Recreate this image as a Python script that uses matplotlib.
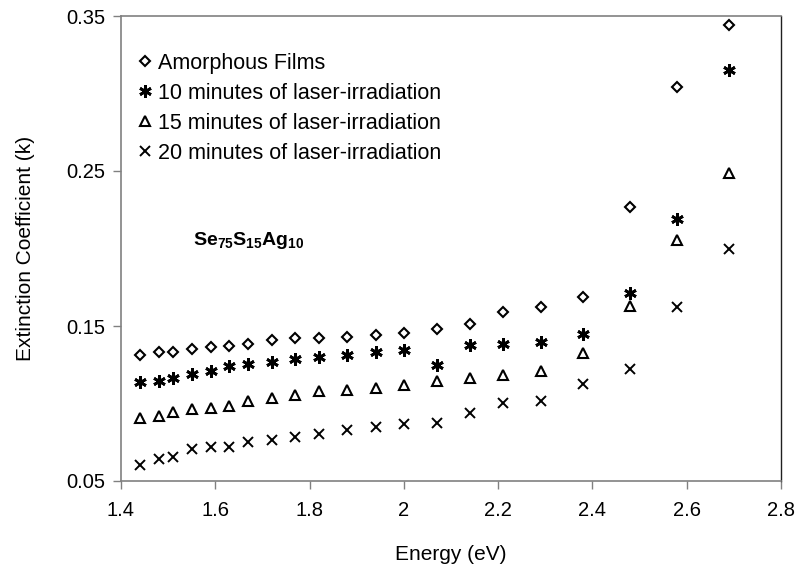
import matplotlib
matplotlib.use('Agg')
import matplotlib.pyplot as plt

plt.rcParams['font.family'] = ['Liberation Sans', 'DejaVu Sans']
plt.rcParams['mathtext.fontset'] = 'custom'
plt.rcParams['mathtext.rm'] = 'Liberation Sans'
plt.rcParams['mathtext.bf'] = 'Liberation Sans:bold'

energy = [1.44, 1.48, 1.51, 1.55, 1.59, 1.63, 1.67, 1.72, 1.77, 1.82, 1.88, 1.94,
          2.00, 2.07, 2.14, 2.21, 2.29, 2.38, 2.48, 2.58, 2.69]

k_amorphous = [0.1316, 0.1331, 0.1335, 0.1353, 0.1364, 0.1370, 0.1385, 0.1407, 0.1420,
               0.1424, 0.1430, 0.1442, 0.1457, 0.1483, 0.1515, 0.1590, 0.1623, 0.1688,
               0.2270, 0.3040, 0.3442]
k_10min = [0.1136, 0.1147, 0.1164, 0.1190, 0.1208, 0.1245, 0.1255, 0.1268, 0.1288,
           0.1299, 0.1316, 0.1331, 0.1347, 0.1247, 0.1375, 0.1385, 0.1398, 0.1450,
           0.1716, 0.2193, 0.3150]
k_15min = [0.0905, 0.0920, 0.0942, 0.0963, 0.0974, 0.0985, 0.1018, 0.1034, 0.1052,
           0.1078, 0.1089, 0.1099, 0.1117, 0.1147, 0.1164, 0.1186, 0.1208, 0.1327,
           0.1630, 0.2052, 0.2485]
k_20min = [0.0602, 0.0645, 0.0656, 0.0706, 0.0721, 0.0721, 0.0749, 0.0764, 0.0786,
           0.0803, 0.0829, 0.0846, 0.0869, 0.0872, 0.0937, 0.1006, 0.1017, 0.1125,
           0.1223, 0.1623, 0.1998]

labels = ['Amorphous Films', '10 minutes of laser-irradiation',
          '15 minutes of laser-irradiation', '20 minutes of laser-irradiation']

fig = plt.figure(figsize=(7.98, 5.69), dpi=100)
ax = fig.add_axes([121 / 798, 1 - 481 / 569, 660 / 798, 465 / 569])

ax.plot(energy, k_amorphous, linestyle='none', marker='D', markersize=5.2,
        markerfacecolor='none', markeredgecolor='black', markeredgewidth=1.5, label=labels[0])
ax.plot(energy, k_10min, linestyle='none', marker=(6, 2, 0), markersize=9,
        markeredgecolor='black', markeredgewidth=2, label=labels[1])
ax.plot(energy, k_15min, linestyle='none', marker='^', markersize=7.5,
        markerfacecolor='none', markeredgecolor='black', markeredgewidth=1.5, label=labels[2])
ax.plot(energy, k_20min, linestyle='none', marker='x', markersize=7.5,
        markeredgecolor='black', markeredgewidth=1.4, label=labels[3])

ax.set_xlim(1.4, 2.8)
ax.set_ylim(0.05, 0.35)
ax.set_xticks([1.4, 1.6, 1.8, 2.0, 2.2, 2.4, 2.6, 2.8])
ax.set_xticklabels(['1.4', '1.6', '1.8', '2', '2.2', '2.4', '2.6', '2.8'])
ax.set_yticks([0.05, 0.15, 0.25, 0.35])
ax.set_yticklabels(['0.05', '0.15', '0.25', '0.35'])
ax.tick_params(axis='both', direction='out', length=5.5, width=1, color='#808080',
               labelsize=14.5)
ax.tick_params(axis='x', pad=9)
ax.tick_params(axis='y', pad=6)

for side in ['left', 'bottom', 'top']:
    ax.spines[side].set_color('#808080')
    ax.spines[side].set_linewidth(1.2)
ax.spines['right'].set_color('#202020')
ax.spines['right'].set_linewidth(1.0)

ax.set_xlabel('Energy (eV)', fontsize=15, labelpad=18)
ax.set_ylabel('Extinction Coefficient (k)', fontsize=15, labelpad=22)

ax.text(0.109, 0.518, r'$\mathbf{Se_{75}S_{15}Ag_{10}}$', transform=ax.transAxes,
        fontsize=14, ha='left', va='center')

ax.legend(loc='upper left', bbox_to_anchor=(0.014, 0.94), frameon=False, fontsize=15.5,
          handlelength=0.6, handletextpad=0.3, labelspacing=0.42, borderaxespad=0)

plt.savefig('out.png', dpi=100)
